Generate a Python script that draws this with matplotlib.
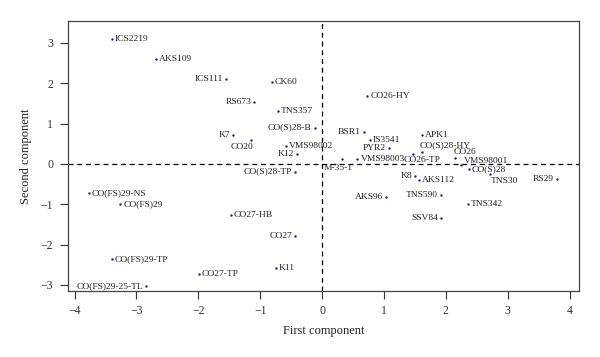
import matplotlib.pyplot as plt

plt.rcParams['font.family'] = ['Liberation Serif', 'DejaVu Serif']

names = ['ICS2219', 'AKS109', 'ICS111', 'CK60', 'RS673', 'TNS357', 'CO(S)28-B',
         'K7', 'CO20', 'VMS98002', 'K12', 'CO(S)28-TP',
         'CO26-HY', 'BSR1', 'IS3541', 'PYR2', 'APK1', 'CO(S)28-HY', 'CO26-TP',
         'CO26', 'VMS98001', 'CO(S)28', 'TNS30', 'RS29', 'M-35-1', 'VMS98003',
         'K8', 'AKS112', 'AKS96', 'TNS590', 'TNS342', 'SSV84',
         'CO(FS)29-NS', 'CO(FS)29', 'CO27-HB', 'CO27', 'CO(FS)29-TP', 'K11',
         'CO27-TP', 'CO(FS)29-25-TL']
first = [-3.40, -2.68, -1.56, -0.81, -1.10, -0.71, -0.12,
         -1.44, -1.15, -0.59, -0.41, -0.44,
         0.73, 0.67, 0.77, 1.08, 1.61, 1.62, 1.47,
         2.14, 2.25, 2.37, 2.72, 3.79, 0.32, 0.57,
         1.50, 1.57, 1.03, 1.92, 2.36, 1.92,
         -3.77, -3.26, -1.48, -0.44, -3.40, -0.75,
         -1.99, -2.84]
second = [3.09, 2.60, 2.10, 2.02, 1.54, 1.32, 0.90,
          0.72, 0.58, 0.45, 0.24, -0.19,
          1.69, 0.80, 0.60, 0.39, 0.72, 0.30, 0.25,
          0.15, -0.02, -0.12, -0.24, -0.37, 0.11, 0.12,
          -0.31, -0.39, -0.82, -0.78, -0.99, -1.35,
          -0.73, -1.00, -1.27, -1.80, -2.37, -2.59,
          -2.72, -3.02]

# label placement: (dx px, dy px, ha)
R = (3, 0, 'left')
L = (-3, 0, 'right')
place = {
    'ICS111': L, 'RS673': L, 'CO(S)28-B': L, 'K7': L, 'K12': L,
    'CO(S)28-TP': L, 'BSR1': L, 'PYR2': L, 'RS29': L, 'K8': L,
    'AKS96': L, 'TNS590': L, 'SSV84': L, 'CO27': L, 'CO(FS)29-25-TL': L,
    'CO20': (-9, -7, 'center'),
    'CO(S)28-HY': (-3, 7, 'left'),
    'CO26-TP': (9, -6, 'center'),
    'CO26': (-1, 6, 'left'),
    'VMS98001': (2, 4, 'left'),
    'TNS30': (0, -7, 'left'),
    'M-35-1': (-18, -9, 'left'),
}

fig = plt.figure(figsize=(6, 3.57), dpi=100)
ax = fig.add_axes([0.114, 0.185, 0.851, 0.756])

ax.axhline(0, color='black', ls=(0, (4, 3)), lw=0.9)
ax.axvline(0, color='black', ls=(0, (4, 3)), lw=0.9)
ax.scatter(first, second, s=3, color='#1c1ca8', zorder=3, linewidths=0)

for n, x, y in zip(names, first, second):
    dx, dy, ha = place.get(n, R)
    ax.annotate(n, (x, y), xytext=(dx, dy), textcoords='offset pixels',
                ha=ha, va='center', fontsize=6.8, color='#222222')

ax.set_xlim(-4.10, 4.15)
ax.set_ylim(-3.15, 3.54)
ax.set_xticks(range(-4, 5))
ax.set_yticks(range(-3, 4))
ax.set_xticklabels([str(v).replace('-', '\u2212') for v in range(-4, 5)])
ax.set_yticklabels([str(v).replace('-', '\u2212') for v in range(-3, 4)])
ax.tick_params(direction='out', length=6, width=0.8, labelsize=8.5,
               colors='#333333')
ax.tick_params(axis='y', pad=5)
ax.tick_params(axis='x', pad=4)
for s in ax.spines.values():
    s.set_linewidth(0.9)
    s.set_color('#444444')
ax.set_xlabel('First component', fontsize=9, color='#222222', labelpad=6)
ax.set_ylabel('Second component', fontsize=9, color='#222222', labelpad=6)

fig.savefig('out.png', dpi=100)
